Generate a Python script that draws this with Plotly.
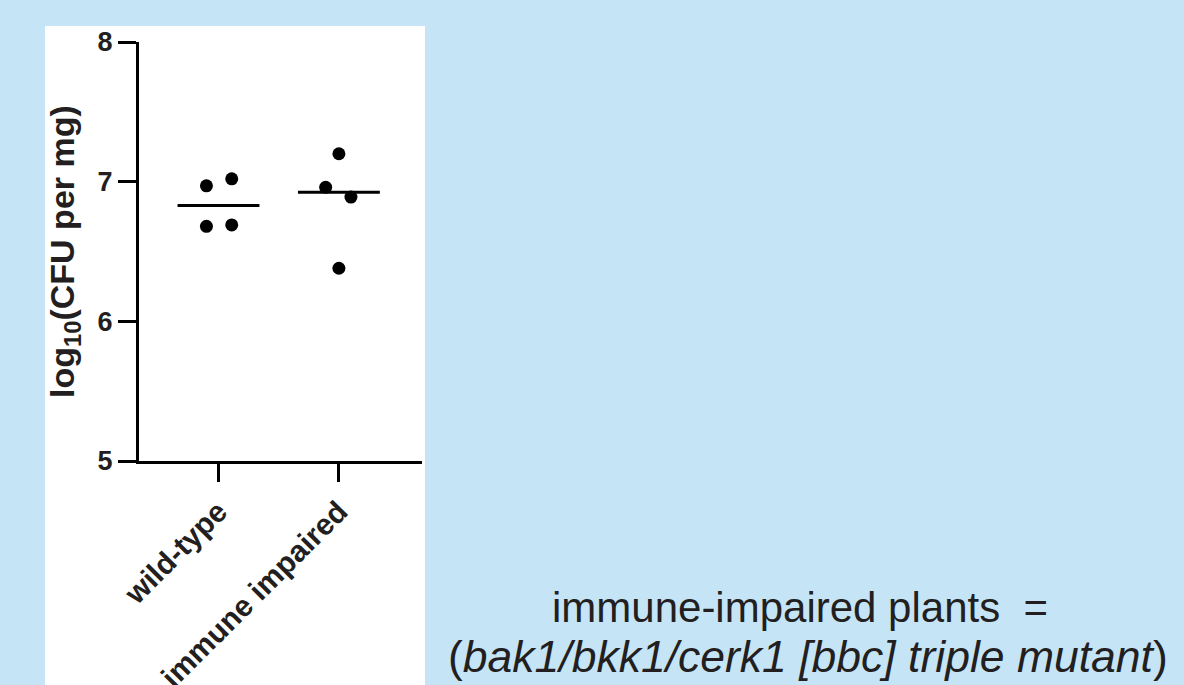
import numpy as np
import plotly.graph_objects as go

# ---- data ----
categories = ["wild-type", "immune impaired"]
wild_type = [6.97, 7.02, 6.68, 6.69]
immune_impaired = [7.20, 6.96, 6.89, 6.38]
y_ticks = [5, 6, 7, 8]

# ---- styling / positions ----
jitter_wt = [-0.10, 0.11, -0.10, 0.11]
jitter_ii = [0.0, -0.11, 0.10, 0.0]
half_width = 0.34
ink = "#231F20"
bg = "#C5E5F7"
font_family = "Liberation Sans, Arial, sans-serif"

PAGE_W, PAGE_H = 1184, 685
OFF = 8                          # default body margin of the page
W, H = PAGE_W - OFF, PAGE_H - OFF
L, R, T, B = 139, 422, 42, 461   # plot area in page pixels


def px(x):
    return (x - L) / (R - L)


def py(y):
    return (B - y) / (B - T)


fig = go.Figure()

groups = [wild_type, immune_impaired]
jitters = [jitter_wt, jitter_ii]
for i, (vals, jit) in enumerate(zip(groups, jitters)):
    fig.add_trace(go.Scatter(
        x=[i + j for j in jit], y=vals, mode="markers",
        marker=dict(size=13, color="black"), showlegend=False,
        hoverinfo="y"))
    med = float(np.median(vals))
    fig.add_trace(go.Scatter(
        x=[i - half_width, i + half_width], y=[med, med], mode="lines",
        line=dict(color="black", width=3), showlegend=False, hoverinfo="skip"))

fig.update_layout(
    width=W, height=H,
    margin=dict(l=L - OFF, r=PAGE_W - R, t=T - OFF, b=PAGE_H - B, pad=0,
                autoexpand=False),
    paper_bgcolor=bg, plot_bgcolor="white",
    font=dict(family=font_family, color=ink, size=14),
    shapes=[dict(type="rect", xref="paper", yref="paper", layer="below",
                 x0=px(45), x1=px(425), y0=py(700), y1=py(26),
                 fillcolor="white", line=dict(width=0))],
)

fig.update_xaxes(
    range=[-0.66, 1.69], tickmode="array", tickvals=[0, 1], ticktext=categories,
    showline=True, linecolor="black", linewidth=3, showgrid=False, zeroline=False,
    ticks="outside", ticklen=18, tickwidth=3, tickcolor="black", tickangle=-45,
    tickfont=dict(size=30, family=font_family, color=ink, weight="bold"),
    fixedrange=True, automargin=False,
)
fig.update_yaxes(
    range=[5, 8], tickmode="array", tickvals=y_ticks,
    ticktext=[str(v) for v in y_ticks],
    showline=True, linecolor="black", linewidth=3, showgrid=False, zeroline=False,
    ticks="outside", ticklen=18, tickwidth=3, tickcolor="black",
    tickfont=dict(size=27, family=font_family, color=ink, weight="bold"),
    fixedrange=True, automargin=False,
)

fig.add_annotation(
    x=px(64), y=py(252), xref="paper", yref="paper", showarrow=False,
    text="<b>log<sub>10</sub>(CFU per mg)</b>", textangle=-90,
    font=dict(size=34, family=font_family, color=ink),
    xanchor="center", yanchor="middle")

fig.add_annotation(
    x=px(800), y=py(607), xref="paper", yref="paper", showarrow=False,
    text="immune-impaired plants  =",
    font=dict(size=42, family=font_family, color=ink),
    xanchor="center", yanchor="middle")
fig.add_annotation(
    x=px(808), y=py(656), xref="paper", yref="paper", showarrow=False,
    text="(<i>bak1/bkk1/cerk1 [bbc] triple mutant</i>)",
    font=dict(size=44.5, family=font_family, color=ink),
    xanchor="center", yanchor="middle")

fig.write_html("out.html",
               post_script="document.body.style.background='%s';" % bg)
